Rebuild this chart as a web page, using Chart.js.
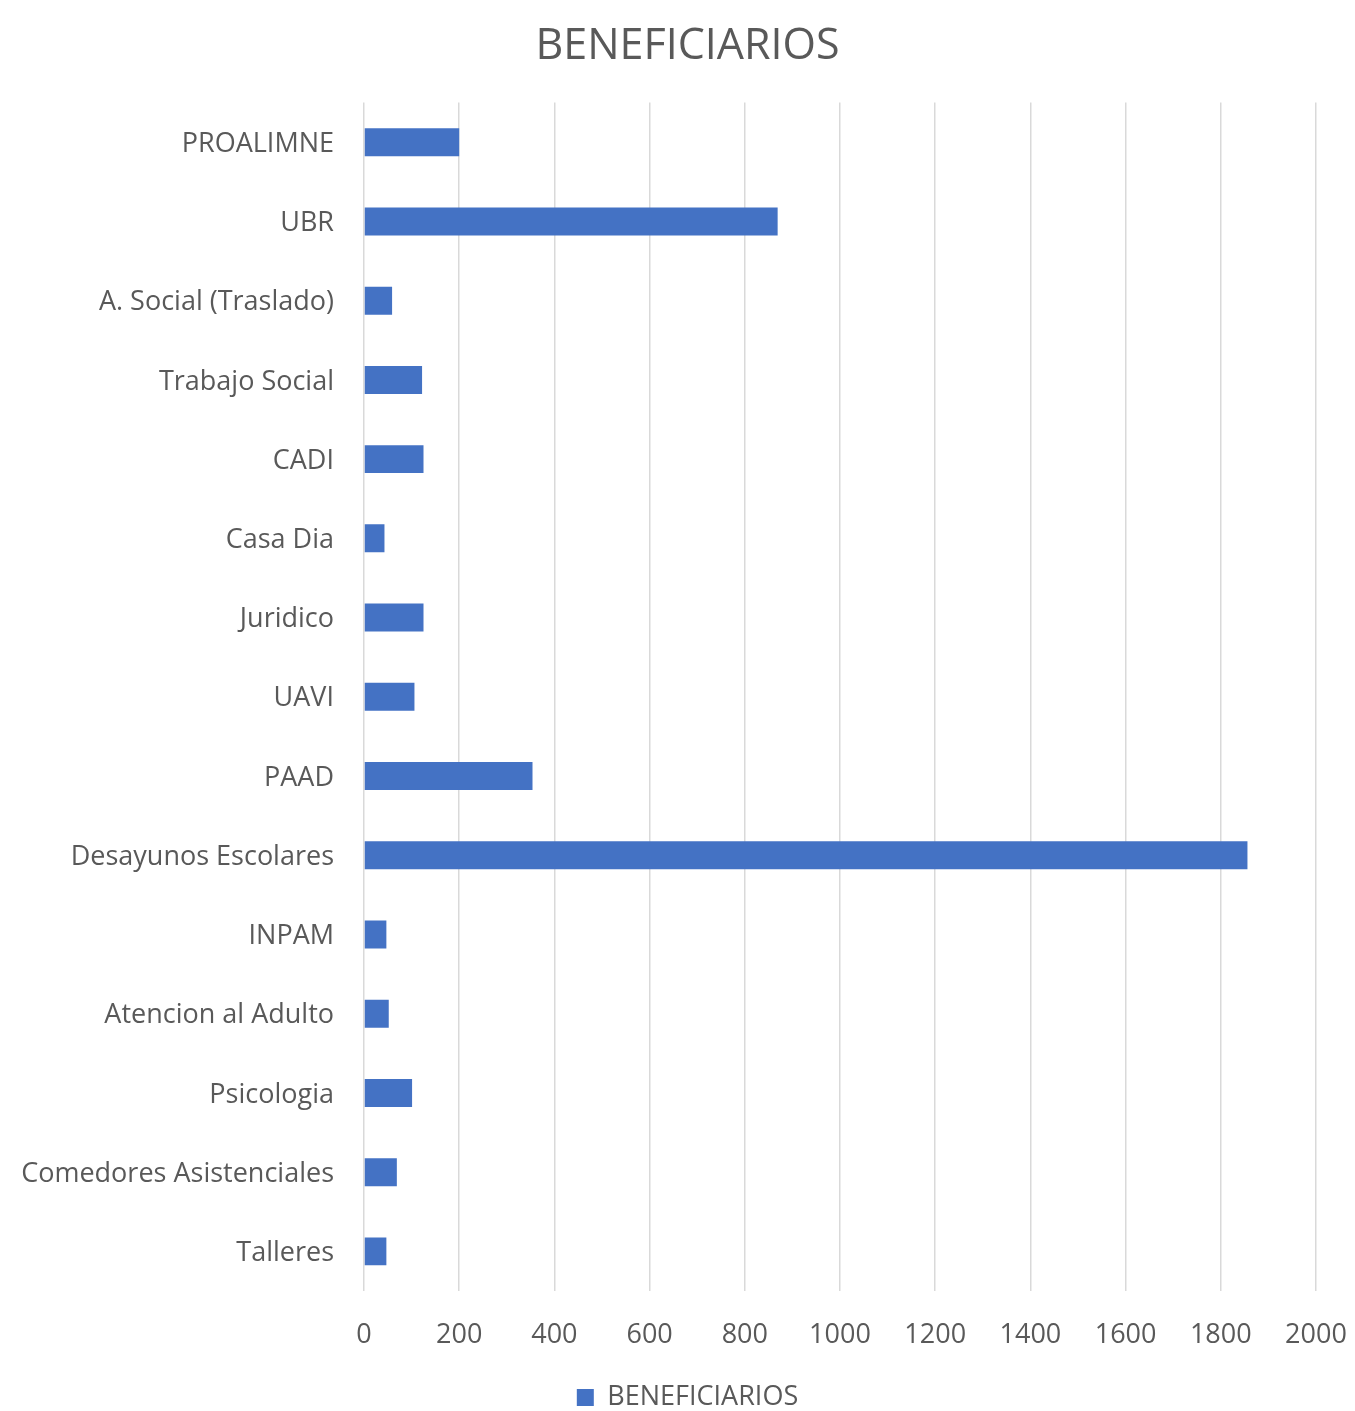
<!DOCTYPE html>
<html>
<head>
<meta charset="utf-8">
<script src="https://cdn.jsdelivr.net/npm/chart.js@4.4.0/dist/chart.umd.min.js"></script>
<style>
  html, body { margin: 0; padding: 0; background: #ffffff; }
  #wrap { width: 1355px; height: 1411px; }
</style>
</head>
<body>
<div id="wrap"><canvas id="c" width="1355" height="1411"></canvas></div>
<script>
const categories = [
  "PROALIMNE", "UBR", "A. Social (Traslado)", "Trabajo Social", "CADI",
  "Casa Dia", "Juridico", "UAVI", "PAAD", "Desayunos Escolares",
  "INPAM", "Atencion al Adulto", "Psicologia", "Comedores Asistenciales", "Talleres"
];
const beneficiarios = [200, 869, 59, 122, 125, 43, 125, 106, 354, 1856, 47, 52, 101, 69, 47];
const xTicks = [0, 200, 400, 600, 800, 1000, 1200, 1400, 1600, 1800, 2000];
const seriesName = "BENEFICIARIOS";
const chartTitle = "BENEFICIARIOS";

const FONT = "'Open Sans', Lato, sans-serif";
const TXT = "#595959";
const PAD_LEFT = 20;

new Chart(document.getElementById('c'), {
  type: 'bar',
  data: {
    labels: categories,
    datasets: [{
      label: seriesName,
      data: beneficiarios,
      backgroundColor: '#4472C4',
      borderWidth: 0,
      categoryPercentage: 1.0,
      barPercentage: 0.353
    }]
  },
  options: {
    indexAxis: 'y',
    responsive: false,
    animation: false,
    layout: { padding: { top: 0, right: 0, bottom: -10, left: PAD_LEFT } },
    plugins: {
      title: {
        display: true,
        text: chartTitle,
        color: TXT,
        font: { family: FONT, size: 43, weight: 'normal' },
        padding: { top: 21, bottom: 30 }
      },
      legend: {
        position: 'bottom',
        labels: {
          color: TXT,
          font: { family: FONT, size: 27 },
          boxWidth: 17,
          boxHeight: 17,
          padding: 2
        }
      },
      tooltip: { enabled: false }
    },
    scales: {
      x: {
        min: 0,
        max: 2000,
        afterBuildTicks: (scale) => { scale.ticks = xTicks.map(v => ({ value: v })); },
        ticks: {
          color: TXT,
          font: { family: FONT, size: 27 },
          padding: 28,
          maxRotation: 0,
          callback: (v) => String(v)
        },
        grid: { color: '#d9d9d9', lineWidth: 1.5, drawTicks: false },
        border: { display: false },
        afterFit: (scale) => { scale.height = 91; scale.paddingLeft = 0; scale.paddingRight = 39; }
      },
      y: {
        ticks: {
          color: TXT,
          font: { family: FONT, size: 27 },
          padding: 30,
          labelOffset: 2,
          autoSkip: false
        },
        grid: { display: false, drawTicks: false },
        border: { display: false },
        afterFit: (scale) => { scale.width = 364 - PAD_LEFT; scale.paddingTop = 0; scale.paddingBottom = 0; }
      }
    }
  }
});
</script>
</body>
</html>
